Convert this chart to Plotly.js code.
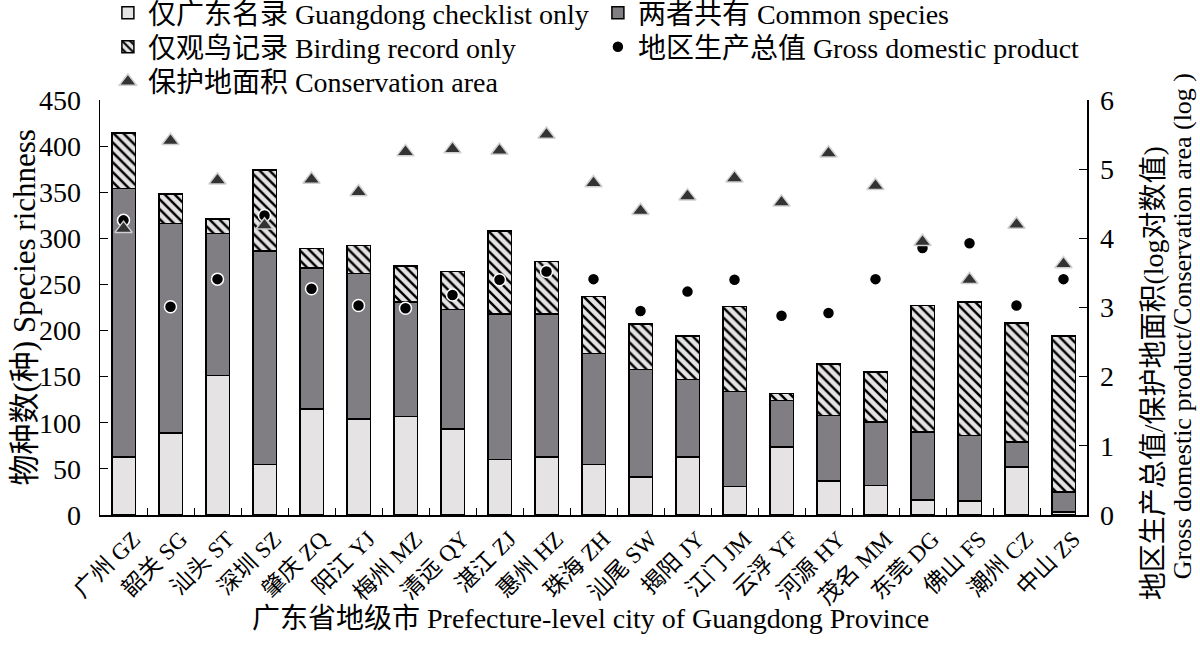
<!DOCTYPE html>
<html>
<head>
<meta charset="utf-8">
<script src="https://cdn.plot.ly/plotly-3.0.1.min.js"></script>
<style>html,body{margin:0;padding:0;background:#fff;}#chart{width:1200px;height:659px;}</style>
</head>
<body>
<div id="chart"></div>
<script>
var cities = ["广州 GZ","韶关 SG","汕头 ST","深圳 SZ","肇庆 ZQ","阳江 YJ","梅州 MZ","清远 QY","湛江 ZJ","惠州 HZ","珠海 ZH","汕尾 SW","揭阳 JY","江门 JM","云浮 YF","河源 HY","茂名 MM","东莞 DG","佛山 FS","潮州 CZ","中山 ZS"];
// stacked segment heights (species)
var checklistOnly = [63, 89, 151, 55, 115, 104, 107, 93, 60, 63, 55, 41, 63, 31, 74, 37, 32, 16, 15, 52, 3];
var commonSpecies = [291, 227, 154, 231, 153, 158, 124, 130, 158, 155, 120, 117, 84, 103, 50, 71, 69, 74, 71, 27, 22];
var birdingOnly   = [60, 32, 16, 88, 21, 30, 39, 41, 90, 57, 62, 49, 47, 92, 8, 56, 54, 137, 145, 129, 169];
// log values, right axis
var gdpLog  = [4.26, 3.01, 3.41, 4.33, 3.27, 3.03, 2.99, 3.18, 3.40, 3.52, 3.41, 2.95, 3.23, 3.40, 2.88, 2.92, 3.41, 3.86, 3.93, 3.03, 3.41];
var areaLog = [4.14, 5.41, 4.84, 4.19, 4.85, 4.67, 5.25, 5.29, 5.27, 5.50, 4.80, 4.40, 4.61, 4.87, 4.52, 5.23, 4.76, 3.95, 3.40, 4.20, 3.63];
var leftTitle = "物种数(种) Species richness";
var bottomTitle = "广东省地级市 Prefecture-level city of Guangdong Province";
var rightTitleLines = ["地区生产总值/保护地面积(log对数值)", "Gross domestic product/Conservation area (log )"];

var FONT = "Liberation Serif, Times New Roman, Noto Sans CJK SC, serif";
var outline = {color: "#000", width: 1.5};

var traces = [
  {type: "bar", name: "仅广东名录 Guangdong checklist only", x: cities, y: checklistOnly, legend: "legend",
   marker: {color: "#e6e3e4", line: outline}},
  {type: "bar", name: "两者共有 Common species", x: cities, y: commonSpecies, legend: "legend",
   marker: {color: "#807e83", line: outline}},
  {type: "bar", name: "仅观鸟记录 Birding record only", x: cities, y: birdingOnly, legend: "legend2",
   marker: {color: "#e6e3e4", line: outline,
            pattern: {shape: "\\", bgcolor: "#e6e3e4", fgcolor: "#000", size: 7, solidity: 0.35}}},
  {type: "scatter", mode: "markers", name: "地区生产总值 Gross domestic product", x: cities, y: gdpLog, yaxis: "y2", legend: "legend2",
   marker: {symbol: "circle", size: 12, color: "#000", line: {color: "#fff", width: 1.5}}},
  {type: "scatter", mode: "markers", name: "保护地面积 Conservation area", x: cities, y: areaLog, yaxis: "y2", legend: "legend3",
   marker: {symbol: "triangle-up", size: 15, color: "#333333", line: {color: "#d0d0d0", width: 1.5}}}
];

function legendAt(y) {
  return {orientation: "h", x: 0.008, xanchor: "left", y: y, yanchor: "top",
          entrywidth: 445, entrywidthmode: "pixels", font: {family: FONT, size: 28},
          bgcolor: "rgba(0,0,0,0)", traceorder: "normal"};
}

var layout = {
  width: 1200, height: 659,
  margin: {l: 100, r: 113, t: 100, b: 144, autoexpand: false},
  paper_bgcolor: "#fff", plot_bgcolor: "#fff",
  font: {family: FONT, size: 28, color: "#000"},
  barmode: "stack", bargap: 0.5,
  showlegend: true,
  legend: legendAt(1.27),
  legend2: legendAt(1.188),
  legend3: legendAt(1.104),
  xaxis: {type: "category", range: [-0.5, 20.5], automargin: false, tickangle: -45, tickson: "boundaries",
          ticks: "inside", ticklen: 7, tickcolor: "#000", showline: true, linecolor: "#000", linewidth: 1.5,
          showgrid: false, zeroline: false, tickfont: {family: FONT, size: 23}, ticklabelshift: 10},
  yaxis: {range: [0, 450], dtick: 50, automargin: false, ticks: "inside", ticklen: 8, tickcolor: "#000",
          showline: true, linecolor: "#000", linewidth: 1.5, showgrid: false, zeroline: false,
          tickfont: {family: FONT, size: 28}, ticklabelstandoff: 12},
  yaxis2: {range: [0, 6], dtick: 1, overlaying: "y", side: "right", automargin: false, ticks: "inside", ticklen: 8,
           tickcolor: "#000", showline: true, linecolor: "#000", linewidth: 1.5, showgrid: false,
           zeroline: false, tickfont: {family: FONT, size: 28}, ticklabelstandoff: 6},
  annotations: [
    {text: leftTitle, xref: "paper", yref: "paper", x: -0.076, y: 0.5, xanchor: "center", yanchor: "middle",
     textangle: -90, showarrow: false, font: {family: FONT, size: 31}},
    {text: bottomTitle, xref: "paper", yref: "paper", x: 0.497, y: -0.25, xanchor: "center", yanchor: "middle",
     showarrow: false, font: {family: FONT, size: 28}},
    {text: rightTitleLines[0], xref: "paper", yref: "paper", x: 1.067, y: -0.21, xanchor: "center", yanchor: "bottom",
     textangle: -90, showarrow: false, font: {family: FONT, size: 28}},
    {text: rightTitleLines[1], xref: "paper", yref: "paper", x: 1.097, y: -0.16, xanchor: "center", yanchor: "bottom",
     textangle: -90, showarrow: false, font: {family: FONT, size: 26}}
  ]
};

Plotly.newPlot("chart", traces, layout, {staticPlot: true, displayModeBar: false});
</script>
</body>
</html>
